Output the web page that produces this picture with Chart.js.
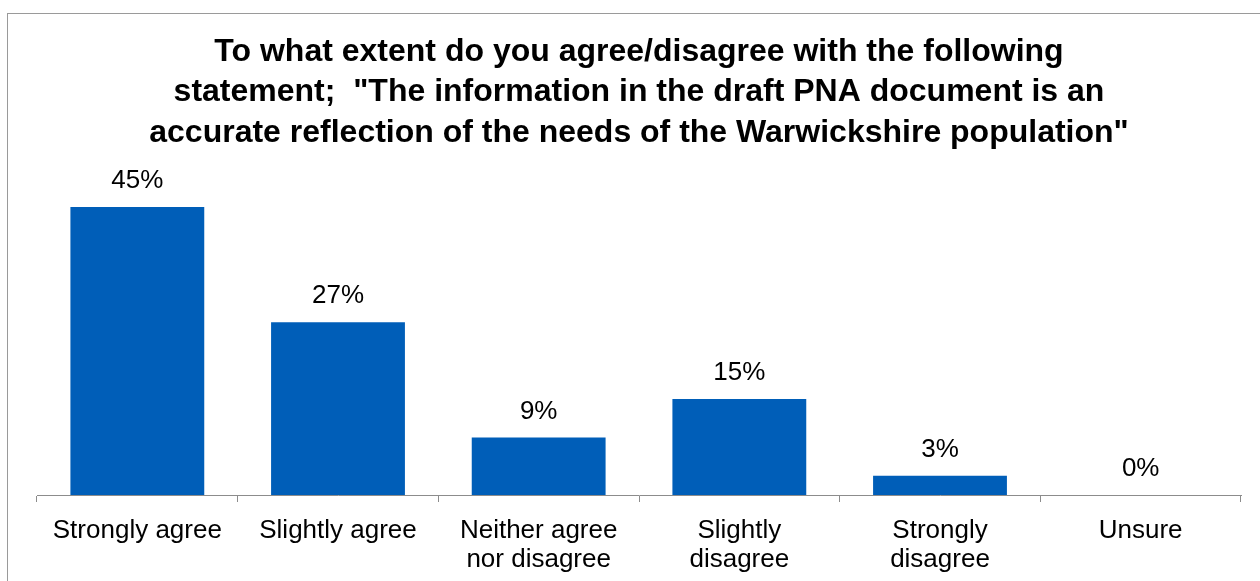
<!DOCTYPE html>
<html>
<head>
<meta charset="utf-8">
<script src="https://cdn.jsdelivr.net/npm/chart.js@4/dist/chart.umd.min.js"></script>
<style>
  html, body { margin: 0; padding: 0; background: #fff; }
  #wrap { position: relative; width: 1260px; height: 581px; overflow: hidden; }
  #frame { position: absolute; left: 7px; top: 13px; width: 1270px; height: 620px; border: 1px solid #9a9a9a; pointer-events: none; }
  canvas { position: absolute; left: 0; top: 0; }
</style>
</head>
<body>
<div id="wrap">
  <canvas id="c" width="1260" height="581"></canvas>
  <div id="frame"></div>
</div>
<script>
const categories = [
  "Strongly agree",
  "Slightly agree",
  ["Neither agree", "nor disagree"],
  ["Slightly", "disagree"],
  ["Strongly", "disagree"],
  "Unsure"
];
const percentages = [45, 27, 9, 15, 3, 0];
const titleLines = [
  "To what extent do you agree/disagree with the following",
  "statement;  \"The information in the draft PNA document is an",
  "accurate reflection of the needs of the Warwickshire population\""
];

const FONT = "'Liberation Sans', Arial, Helvetica, sans-serif";

const valueLabels = {
  id: 'valueLabels',
  afterDatasetsDraw(chart) {
    const ctx = chart.ctx;
    const meta = chart.getDatasetMeta(0);
    ctx.save();
    ctx.font = "26px " + FONT;
    ctx.fillStyle = "#000";
    ctx.textAlign = "center";
    ctx.textBaseline = "middle";
    meta.data.forEach((bar, i) => {
      ctx.fillText(percentages[i] + "%", bar.x, bar.y - 26);
    });
    ctx.restore();
  }
};

new Chart(document.getElementById('c'), {
  type: 'bar',
  data: {
    labels: categories,
    datasets: [{
      data: percentages,
      backgroundColor: '#005EB8',
      borderWidth: 0,
      barPercentage: 0.667,
      categoryPercentage: 1.0
    }]
  },
  plugins: [valueLabels],
  options: {
    responsive: false,
    animation: false,
    devicePixelRatio: 1,
    layout: { padding: { left: 37, right: 19, top: 0, bottom: 0 } },
    plugins: {
      legend: { display: false },
      tooltip: { enabled: false },
      title: {
        display: true,
        text: titleLines,
        color: '#000',
        font: { family: FONT, size: 32, weight: 'bold', lineHeight: 1.266 },
        padding: { top: 31.5, bottom: 22 }
      }
    },
    scales: {
      x: {
        offset: true,
        afterFit(scale) { scale.height = 86; },
        grid: {
          display: true,
          drawOnChartArea: false,
          drawTicks: true,
          tickLength: 7,
          offset: true,
          color: '#8c8c8c',
          lineWidth: 1
        },
        border: { display: true, color: '#8c8c8c', width: 1 },
        ticks: {
          color: '#000',
          font: { family: FONT, size: 26, lineHeight: 1.115 },
          padding: 14,
          maxRotation: 0,
          autoSkip: false
        }
      },
      y: {
        display: false,
        min: 0,
        max: 50
      }
    }
  }
});
</script>
</body>
</html>
